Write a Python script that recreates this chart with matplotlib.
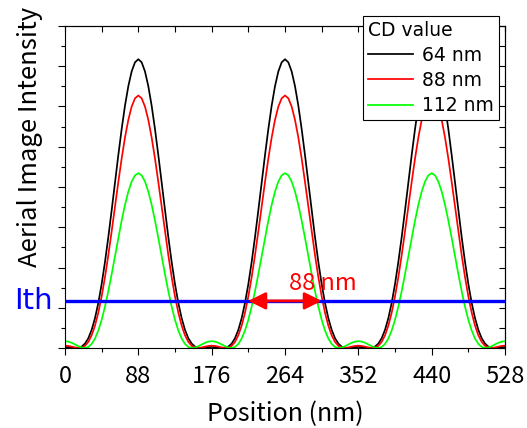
import numpy as np
import matplotlib.pyplot as plt

plt.rcParams['font.family'] = ['Noto Sans CJK JP', 'DejaVu Sans']

# position along the line (nm), sampled every 4 nm
position = np.arange(0, 529, 4)

# aerial image intensity (arbitrary units)
cd_64 = [
    0.0025, 0.0021, 0.0010, 0.0001, 0.0004, 0.0035, 0.0110, 0.0243, 0.0450, 0.0741, 0.1120, 0.1588,
    0.2138, 0.2755, 0.3420, 0.4109, 0.4791, 0.5438, 0.6019, 0.6504, 0.6870, 0.7097, 0.7174,
    0.7097, 0.6870, 0.6504, 0.6019, 0.5438, 0.4791, 0.4109, 0.3420, 0.2755, 0.2138, 0.1588,
    0.1120, 0.0741, 0.0450, 0.0243, 0.0110, 0.0035, 0.0004, 0.0001, 0.0010, 0.0021, 0.0025,
    0.0021, 0.0010, 0.0001, 0.0004, 0.0035, 0.0110, 0.0243, 0.0450, 0.0741, 0.1120, 0.1588,
    0.2138, 0.2755, 0.3420, 0.4109, 0.4791, 0.5438, 0.6019, 0.6504, 0.6870, 0.7097, 0.7174,
    0.7097, 0.6870, 0.6504, 0.6019, 0.5438, 0.4791, 0.4109, 0.3420, 0.2755, 0.2138, 0.1588,
    0.1120, 0.0741, 0.0450, 0.0243, 0.0110, 0.0035, 0.0004, 0.0001, 0.0010, 0.0021, 0.0025,
    0.0021, 0.0010, 0.0001, 0.0004, 0.0035, 0.0110, 0.0243, 0.0450, 0.0741, 0.1120, 0.1588,
    0.2138, 0.2755, 0.3420, 0.4109, 0.4791, 0.5438, 0.6019, 0.6504, 0.6870, 0.7097, 0.7174,
    0.7097, 0.6870, 0.6504, 0.6019, 0.5438, 0.4791, 0.4109, 0.3420, 0.2755, 0.2138, 0.1588,
    0.1120, 0.0741, 0.0450, 0.0243, 0.0110, 0.0035, 0.0004, 0.0001, 0.0010, 0.0021, 0.0025,
]
cd_88 = [
    0.0058, 0.0051, 0.0034, 0.0014, 0.0001, 0.0009, 0.0054, 0.0152, 0.0316, 0.0556, 0.0878, 0.1282,
    0.1762, 0.2307, 0.2898, 0.3512, 0.4124, 0.4706, 0.5229, 0.5667, 0.5997, 0.6203, 0.6273,
    0.6203, 0.5997, 0.5667, 0.5229, 0.4706, 0.4124, 0.3512, 0.2898, 0.2307, 0.1762, 0.1282,
    0.0878, 0.0556, 0.0316, 0.0152, 0.0054, 0.0009, 0.0001, 0.0014, 0.0034, 0.0051, 0.0058,
    0.0051, 0.0034, 0.0014, 0.0001, 0.0009, 0.0054, 0.0152, 0.0316, 0.0556, 0.0878, 0.1282,
    0.1762, 0.2307, 0.2898, 0.3512, 0.4124, 0.4706, 0.5229, 0.5667, 0.5997, 0.6203, 0.6273,
    0.6203, 0.5997, 0.5667, 0.5229, 0.4706, 0.4124, 0.3512, 0.2898, 0.2307, 0.1762, 0.1282,
    0.0878, 0.0556, 0.0316, 0.0152, 0.0054, 0.0009, 0.0001, 0.0014, 0.0034, 0.0051, 0.0058,
    0.0051, 0.0034, 0.0014, 0.0001, 0.0009, 0.0054, 0.0152, 0.0316, 0.0556, 0.0878, 0.1282,
    0.1762, 0.2307, 0.2898, 0.3512, 0.4124, 0.4706, 0.5229, 0.5667, 0.5997, 0.6203, 0.6273,
    0.6203, 0.5997, 0.5667, 0.5229, 0.4706, 0.4124, 0.3512, 0.2898, 0.2307, 0.1762, 0.1282,
    0.0878, 0.0556, 0.0316, 0.0152, 0.0054, 0.0009, 0.0001, 0.0014, 0.0034, 0.0051, 0.0058,
]
cd_112 = [
    0.0169, 0.0159, 0.0130, 0.0089, 0.0045, 0.0011, 0.0000, 0.0026, 0.0101, 0.0235, 0.0434, 0.0700,
    0.1028, 0.1411, 0.1835, 0.2283, 0.2734, 0.3166, 0.3557, 0.3886, 0.4135, 0.4290, 0.4343,
    0.4290, 0.4135, 0.3886, 0.3557, 0.3166, 0.2734, 0.2283, 0.1835, 0.1411, 0.1028, 0.0700,
    0.0434, 0.0235, 0.0101, 0.0026, 0.0000, 0.0011, 0.0045, 0.0089, 0.0130, 0.0159, 0.0169,
    0.0159, 0.0130, 0.0089, 0.0045, 0.0011, 0.0000, 0.0026, 0.0101, 0.0235, 0.0434, 0.0700,
    0.1028, 0.1411, 0.1835, 0.2283, 0.2734, 0.3166, 0.3557, 0.3886, 0.4135, 0.4290, 0.4343,
    0.4290, 0.4135, 0.3886, 0.3557, 0.3166, 0.2734, 0.2283, 0.1835, 0.1411, 0.1028, 0.0700,
    0.0434, 0.0235, 0.0101, 0.0026, 0.0000, 0.0011, 0.0045, 0.0089, 0.0130, 0.0159, 0.0169,
    0.0159, 0.0130, 0.0089, 0.0045, 0.0011, 0.0000, 0.0026, 0.0101, 0.0235, 0.0434, 0.0700,
    0.1028, 0.1411, 0.1835, 0.2283, 0.2734, 0.3166, 0.3557, 0.3886, 0.4135, 0.4290, 0.4343,
    0.4290, 0.4135, 0.3886, 0.3557, 0.3166, 0.2734, 0.2283, 0.1835, 0.1411, 0.1028, 0.0700,
    0.0434, 0.0235, 0.0101, 0.0026, 0.0000, 0.0011, 0.0045, 0.0089, 0.0130, 0.0159, 0.0169,
]
labels = ['64 nm', '88 nm', '112 nm']
colors = ['black', '#ff0000', '#00ff00']

ith = 0.117              # threshold intensity
cd_span = (220, 308)     # 88 nm wide opening at Ith
xticks = [0, 88, 176, 264, 352, 440, 528]
xminor = [44, 132, 220, 308, 396, 484]
yticks = np.arange(0, 0.81, 0.1)
yminor = np.arange(0.05, 0.8, 0.1)

fig = plt.figure(figsize=(5.27, 4.28), dpi=100)
ax = fig.add_axes([0.1233, 0.1869, 0.8350, 0.7524])

for y, lab, c in zip([cd_64, cd_88, cd_112], labels, colors):
    ax.plot(position, y, color=c, lw=1.25, label=lab, zorder=2)

ax.axhline(ith, color='#0000ff', lw=2.4, zorder=3)
ax.annotate('', xy=(cd_span[0], ith), xytext=(cd_span[1], ith),
            arrowprops=dict(arrowstyle='<|-|>', color='#ff0000', lw=2.0,
                            mutation_scale=26, shrinkA=0, shrinkB=0),
            zorder=4)
ax.text(269, 0.144, '88 nm', color='#ff0000', fontsize=17, ha='left', va='baseline')
ax.text(-0.027, ith, 'Ith', transform=ax.get_yaxis_transform(), color='#0000ff',
        fontsize=21, ha='right', va='center', family='DejaVu Sans')

ax.set_xlim(0, 528)
ax.set_ylim(0, 0.8)
ax.set_xticks(xticks)
ax.set_xticks(xminor, minor=True)
ax.set_yticks(yticks)
ax.set_yticks(yminor, minor=True)
ax.set_yticklabels([])
ax.tick_params(which='major', direction='out', length=5, width=0.8, labelsize=17, pad=7.5)
ax.tick_params(which='minor', direction='out', length=2.6, width=0.8)

# ticks on the opposite sides point inward
top = ax.secondary_xaxis('top')
top.set_xticks(xticks)
top.set_xticks(xminor, minor=True)
top.set_xticklabels([])
top.tick_params(which='both', direction='in', length=4, width=0.8)
right = ax.secondary_yaxis('right')
right.set_yticks(yticks)
right.set_yticks(yminor, minor=True)
right.set_yticklabels([])
right.tick_params(which='both', direction='in', length=4, width=0.8)

for s in ax.spines.values():
    s.set_linewidth(0.8)

ax.set_xlabel('Position (nm)', fontsize=18, labelpad=9)
ax.set_ylabel('Aerial Image Intensity', fontsize=18.5, va='center')
ax.yaxis.set_label_coords(-0.08, 0.654)

leg = ax.legend(title='CD value', loc='upper right', bbox_to_anchor=(0.986, 1.031),
                prop={'family': 'DejaVu Sans', 'size': 13.5},
                title_fontproperties={'family': 'DejaVu Sans', 'size': 13.5},
                fancybox=False, edgecolor='black', framealpha=1, handlelength=2.4,
                handletextpad=0.5, borderaxespad=0, alignment='left',
                labelspacing=0.33, borderpad=0.25)
leg.get_frame().set_linewidth(0.8)
leg.set_zorder(5)

fig.savefig('out.png', dpi=100)
